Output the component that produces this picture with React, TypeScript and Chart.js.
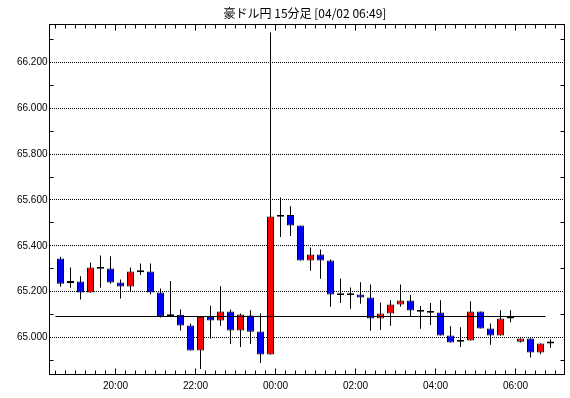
import React, { useEffect, useRef } from "react";
import { Chart, registerables } from "chart.js";

Chart.register(...registerables);

const title = "豪ドル円 15分足 [04/02 06:49]";

const times = [
  "18:30", "18:45", "19:00", "19:15", "19:30", "19:45", "20:00", "20:15", "20:30", "20:45",
  "21:00", "21:15", "21:30", "21:45", "22:00", "22:15", "22:30", "22:45", "23:00", "23:15",
  "23:30", "23:45", "00:00", "00:15", "00:30", "00:45", "01:00", "01:15", "01:30", "01:45",
  "02:00", "02:15", "02:30", "02:45", "03:00", "03:15", "03:30", "03:45", "04:00", "04:15",
  "04:30", "04:45", "05:00", "05:15", "05:30", "05:45", "06:00", "06:15", "06:30", "06:45",
];

const opens = [
  65.345, 65.242, 65.244, 65.196, 65.304, 65.301, 65.240, 65.222, 65.289, 65.288,
  65.196, 65.097, 65.099, 65.052, 64.943, 65.091, 65.074, 65.113, 65.030, 65.096,
  65.026, 64.926, 65.531, 65.534, 65.489, 65.336, 65.362, 65.336, 65.189, 65.189,
  65.188, 65.174, 65.083, 65.105, 65.144, 65.161, 65.116, 65.112, 65.109, 65.009,
  64.985, 64.987, 65.113, 65.039, 65.009, 65.083, 64.981, 64.996, 64.935, 64.974,
];

const highs = [
  65.352, 65.305, 65.267, 65.327, 65.358, 65.355, 65.253, 65.305, 65.323, 65.323,
  65.214, 65.246, 65.122, 65.061, 65.091, 65.139, 65.224, 65.122, 65.105, 65.119,
  65.105, 66.331, 65.611, 65.573, 65.489, 65.393, 65.384, 65.340, 65.257, 65.218,
  65.241, 65.231, 65.153, 65.163, 65.231, 65.185, 65.137, 65.150, 65.163, 65.049,
  65.045, 65.158, 65.113, 65.061, 65.119, 65.119, 64.996, 64.996, 64.974, 64.991,
];

const lows = [
  65.221, 65.217, 65.166, 65.196, 65.217, 65.234, 65.170, 65.202, 65.273, 65.188,
  65.087, 65.093, 65.030, 64.943, 64.863, 64.994, 65.051, 64.972, 64.959, 64.972,
  64.889, 64.926, 65.439, 65.443, 65.336, 65.291, 65.256, 65.134, 65.151, 65.125,
  65.147, 65.029, 65.033, 65.051, 65.134, 65.094, 65.038, 65.055, 65.009, 64.978,
  64.959, 64.987, 65.039, 64.968, 65.009, 65.067, 64.978, 64.913, 64.927, 64.955,
];

const closes = [
  65.234, 65.242, 65.196, 65.305, 65.304, 65.240, 65.222, 65.288, 65.289, 65.196,
  65.093, 65.097, 65.052, 64.943, 65.091, 65.074, 65.113, 65.030, 65.100, 65.025,
  64.926, 65.528, 65.531, 65.489, 65.336, 65.362, 65.336, 65.188, 65.189, 65.189,
  65.174, 65.083, 65.105, 65.144, 65.161, 65.118, 65.116, 65.112, 65.009, 64.978,
  64.985, 65.113, 65.039, 65.009, 65.083, 65.090, 64.996, 64.935, 64.974, 64.983,
];

const baseLineValue = 65.0916;
const baseLineFrom = "18:30";
const baseLineTo = "06:45";

const yTickValues = [65.0, 65.2, 65.4, 65.6, 65.8, 66.0, 66.2];
const xTickLabels = ["20:00", "22:00", "00:00", "02:00", "04:00", "06:00"];

const Y_MIN = 64.8385;
const Y_MAX = 66.3658;
const X_MIN = -0.6;
const X_MAX = 50.9;

const UP = "#ff0000";
const DOWN = "#0000ff";
const FONT = '"Liberation Sans", Arial, sans-serif';

const decorPlugin = {
  id: "decor",
  afterDraw(chart: any) {
    const { ctx, chartArea: a, scales } = chart;
    const xs = scales.x;
    const ys = scales.y;
    ctx.save();
    ctx.strokeStyle = "#000";
    ctx.lineWidth = 1;
    ctx.setLineDash([]);
    ctx.strokeRect(a.left, a.top, a.right - a.left, a.bottom - a.top);
    ctx.beginPath();
    // y minor ticks (half steps between labelled values)
    const minors = [yTickValues[0] - 0.1, ...yTickValues.map((v) => v + 0.1)];
    minors.forEach((v) => {
      if (v <= Y_MIN || v >= Y_MAX) return;
      const py = Math.floor(ys.getPixelForValue(v)) + 0.5;
      ctx.moveTo(a.left, py);
      ctx.lineTo(a.left + 4, py);
      ctx.moveTo(a.right, py);
      ctx.lineTo(a.right - 4, py);
    });
    // x ticks every bar, longer at labelled hours
    for (let i = 0; i <= times.length; i++) {
      const px = Math.floor(xs.getPixelForValue(i)) + 0.5;
      const major = i < times.length && xTickLabels.includes(times[i]);
      const len = major ? 6 : 4;
      ctx.moveTo(px, a.bottom);
      ctx.lineTo(px, a.bottom - len);
      ctx.moveTo(px, a.top);
      ctx.lineTo(px, a.top + len);
    }
    ctx.stroke();
    // title
    ctx.fillStyle = "#000";
    ctx.font = '12px "Noto Sans CJK JP", sans-serif';
    ctx.textAlign = "center";
    ctx.textBaseline = "middle";
    ctx.fillText(title, (a.left + a.right) / 2 - 2, 13);
    ctx.restore();
  },
};

export default function App() {
  const ref = useRef<HTMLCanvasElement | null>(null);

  useEffect(() => {
    if (!ref.current) return;
    const bodies = times.map((_, i) => {
      const o = opens[i];
      const c = closes[i];
      const doji = o === c;
      return {
        x: i + 0.5,
        y: doji ? [c - 0.004, c + 0.004] : [o, c],
      };
    });
    const bodyColors = times.map((_, i) =>
      closes[i] > opens[i] ? UP : closes[i] < opens[i] ? DOWN : "#000"
    );
    const wicks = times.map((_, i) => ({ x: i + 0.5, y: [lows[i], highs[i]] }));
    const lineStart = times.indexOf(baseLineFrom);
    const lineEnd = times.indexOf(baseLineTo);

    const chart = new Chart(ref.current, {
      type: "bar",
      data: {
        datasets: [
          {
            type: "line",
            data: [
              { x: lineStart, y: baseLineValue },
              { x: lineEnd, y: baseLineValue },
            ],
            borderColor: "#000",
            borderWidth: 1,
            pointRadius: 0,
            order: 0,
          } as any,
          {
            type: "bar",
            data: bodies as any,
            backgroundColor: bodyColors,
            borderColor: "#000",
            borderWidth: 1,
            borderSkipped: false,
            barThickness: 7,
            grouped: false,
            inflateAmount: 0,
            order: 1,
          } as any,
          {
            type: "bar",
            data: wicks as any,
            backgroundColor: "#000",
            borderWidth: 0,
            barThickness: 1,
            grouped: false,
            inflateAmount: 0,
            order: 2,
          } as any,
        ],
      },
      options: {
        responsive: false,
        devicePixelRatio: 1,
        animation: false,
        layout: { padding: { top: 24.5, right: 5.5, left: 0, bottom: 0 } },
        plugins: {
          legend: { display: false },
          tooltip: { enabled: false },
          title: { display: false },
        },
        scales: {
          x: {
            type: "linear",
            min: X_MIN,
            max: X_MAX,
            bounds: "data",
            offset: false,
            grid: { display: false, drawTicks: false },
            border: { display: false },
            afterBuildTicks: (scale: any) => {
              scale.ticks = xTickLabels.map((l) => ({ value: times.indexOf(l) }));
            },
            afterFit: (scale: any) => {
              scale.height = 23.5;
            },
            ticks: {
              autoSkip: false,
              maxRotation: 0,
              padding: 6,
              color: "#000",
              font: { family: FONT, size: 10 },
              callback: (v: any) => times[Number(v)] ?? "",
            },
          },
          y: {
            type: "linear",
            min: Y_MIN,
            max: Y_MAX,
            bounds: "data",
            grid: { color: "#000", lineWidth: 1, drawTicks: false },
            border: { display: false, dash: [1, 1] },
            afterBuildTicks: (scale: any) => {
              scale.ticks = yTickValues.map((v) => ({ value: v }));
            },
            afterFit: (scale: any) => {
              scale.width = 49.5;
            },
            ticks: {
              padding: 2,
              color: "#000",
              font: { family: FONT, size: 10 },
              callback: (v: any) => Number(v).toFixed(3),
            },
          },
        },
      } as any,
      plugins: [decorPlugin],
    });
    return () => chart.destroy();
  }, []);

  return (
    <div style={{ position: "fixed", left: 0, top: 0, width: 570, height: 398, background: "#fff" }}>
      <canvas ref={ref} width={570} height={398} />
    </div>
  );
}
